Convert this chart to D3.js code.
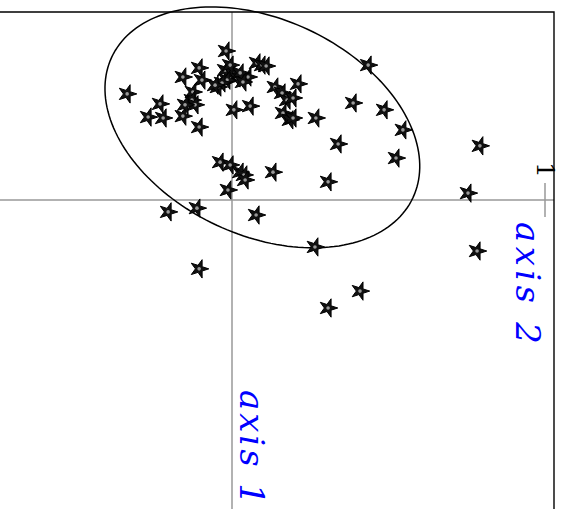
<!DOCTYPE html>
<html>
<head>
<meta charset="utf-8">
<script src="https://cdn.jsdelivr.net/npm/d3@7"></script>
<style>
  html, body { margin: 0; padding: 0; background: #fff; }
  svg { display: block; }
</style>
</head>
<body>
<svg id="chart" width="566" height="509"></svg>
<script>
// Observation scores on the first two axes (axis 1, axis 2)
const axis1 = [
  -0.476, -0.422, -0.393, -0.383, -0.339, -0.307, -0.265, -0.262, -0.268, -0.345,
  -0.319, -0.304, -0.304, -0.233, -0.288, -0.300, -0.361, -0.415, -0.406, -0.390,
  -0.383, -0.374, -0.393, -0.438, -0.431, -0.428, -0.406, -0.361, -0.371, -0.342,
  -0.319, -0.326, -0.278, -0.256, -0.262, -0.262, -0.310, -0.431, -0.288, -0.224,
  -0.179, -0.134, -0.058, 0.150, 0.291, 0.345, -0.173, -0.022, 0.163, -0.121,
  -0.112, -0.089, -0.080, -0.064, -0.089, -0.032, 0.038, 0.026, 0.048, 0.220,
  -0.431, -0.367, -0.377
];
const axis2 = [
  -0.019, -0.105, -0.157, -0.096, -0.335, -0.230, -0.268, -0.220, -0.157, -0.125,
  -0.128, -0.118, -0.150, -0.105, 0.006, 0.058, -0.045, -0.022, 0.000, 0.016,
  -0.016, -0.032, 0.051, 0.080, 0.096, 0.109, 0.026, 0.137, 0.211, 0.160,
  0.176, 0.195, 0.163, 0.185, 0.195, 0.268, 0.387, 0.435, 0.486, 0.546,
  0.339, 0.524, 0.307, 0.265, 0.409, 0.307, 0.792, 0.754, 0.783, -0.038,
  -0.006, 0.026, 0.038, 0.042, 0.131, -0.013, -0.204, -0.112, 0.077, -0.105,
  -0.006, -0.054, 0.035
];

// Concentration ellipse: centre (axis 2, axis 1), semi-axes, tilt in degrees
const ellipseCenter = [0.097, -0.232];
const ellipseRadii = [0.531, 0.345];
const ellipseTilt = [25];

const tickValues = [1];
const axisLabels = ["axis 1", "axis 2"];

const svg = d3.select("#chart");

// The plot is drawn turned a quarter turn: axis 2 runs left to right, axis 1 top to bottom.
const xS = d3.scaleLinear().domain([0, 1]).range([232, 545]); // axis 2
const yS = d3.scaleLinear().domain([0, 1]).range([200, 513]); // axis 1

const frameTop = 12, frameRight = 554;

// reference lines through the origin
svg.append("line")
  .attr("x1", 0).attr("x2", frameRight)
  .attr("y1", yS(0)).attr("y2", yS(0))
  .attr("stroke", "#999").attr("stroke-width", 1.5);
svg.append("line")
  .attr("x1", xS(0)).attr("x2", xS(0))
  .attr("y1", frameTop).attr("y2", 509)
  .attr("stroke", "#999").attr("stroke-width", 1.5);

// tick on axis 2
tickValues.forEach(v => {
  svg.append("line")
    .attr("x1", xS(v)).attr("x2", xS(v))
    .attr("y1", yS(0) - 17).attr("y2", yS(0) + 17)
    .attr("stroke", "#999").attr("stroke-width", 1.5);
  svg.append("text")
    .attr("transform", `translate(${xS(v) - 8},${yS(0) - 30}) rotate(90)`)
    .attr("text-anchor", "middle")
    .attr("font-family", "DejaVu Serif, serif")
    .attr("font-size", 25)
    .attr("fill", "#000")
    .text(v);
});

// frame
svg.append("path")
  .attr("d", `M0,${frameTop}H${frameRight}V509`)
  .attr("fill", "none").attr("stroke", "#000").attr("stroke-width", 1.4);

// ellipse
const th = ellipseTilt[0] * Math.PI / 180;
const ellPts = d3.range(0, 361, 2).map(deg => {
  const t = deg * Math.PI / 180;
  const u = ellipseRadii[0] * Math.cos(t), w = ellipseRadii[1] * Math.sin(t);
  return [ellipseCenter[0] + u * Math.cos(th) - w * Math.sin(th),
          ellipseCenter[1] + u * Math.sin(th) + w * Math.cos(th)];
});
svg.append("path")
  .datum(ellPts)
  .attr("d", d3.line().x(d => xS(d[0])).y(d => yS(d[1])).curve(d3.curveLinearClosed))
  .attr("fill", "none").attr("stroke", "#000").attr("stroke-width", 1.5);

// points
const pts = axis1.map((a1, i) => ({ a1, a2: axis2[i] }));
const star = d3.symbol().type(d3.symbolStar).size(105);
const g = svg.append("g");
const mark = g.selectAll("g.pt").data(pts).join("g")
  .attr("class", "pt")
  .attr("transform", d => `translate(${xS(d.a2)},${yS(d.a1)})`);
mark.append("path")
  .attr("d", star)
  .attr("transform", "rotate(90)")
  .attr("fill", "#111").attr("stroke", "#000").attr("stroke-width", 1)
  .attr("stroke-linejoin", "miter");
mark.append("circle")
  .attr("r", 1.8).attr("fill", "#9a9a9a");

// axis titles
const labelStyle = sel => sel
  .attr("font-family", "DejaVu Serif, serif")
  .attr("font-style", "italic")
  .attr("font-size", 34)
  .attr("fill", "#0000ff")
  .attr("lengthAdjust", "spacing");

svg.append("text")
  .attr("transform", `translate(240,390) rotate(90)`)
  .call(labelStyle)
  .attr("textLength", 115)
  .text(axisLabels[0]);

svg.append("text")
  .attr("transform", `translate(516,222) rotate(90)`)
  .call(labelStyle)
  .attr("textLength", 122)
  .text(axisLabels[1]);
</script>
</body>
</html>
